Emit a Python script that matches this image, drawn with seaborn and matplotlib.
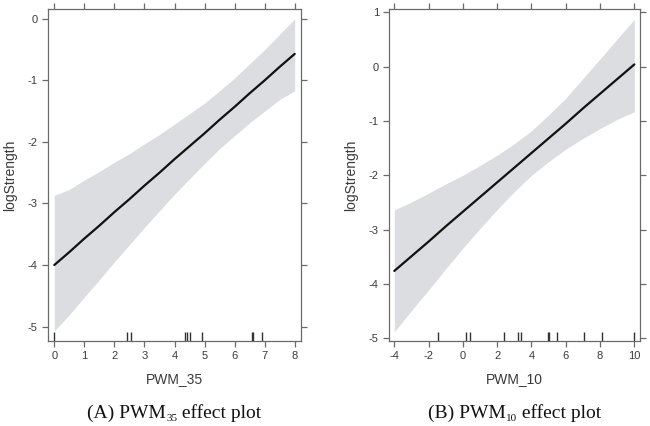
import numpy as np
import pandas as pd
import matplotlib
matplotlib.use("Agg")
import matplotlib.pyplot as plt
import seaborn as sns

# ---- data ----
pwm35_x = [0, 0.5, 1, 1.5, 2, 2.5, 3, 3.5, 4, 4.5, 5, 5.5, 6, 6.5, 7, 7.5, 8]
pwm35_fit = [-4.00, -3.79, -3.57, -3.36, -3.14, -2.93, -2.71, -2.50, -2.28,
             -2.07, -1.86, -1.64, -1.43, -1.21, -1.00, -0.78, -0.57]
pwm35_upper = [-2.87, -2.77, -2.62, -2.48, -2.33, -2.19, -2.03, -1.88, -1.71,
               -1.54, -1.37, -1.17, -0.96, -0.73, -0.50, -0.25, 0.00]
pwm35_lower = [-5.07, -4.81, -4.52, -4.24, -3.95, -3.67, -3.39, -3.12, -2.85,
               -2.60, -2.35, -2.11, -1.90, -1.69, -1.50, -1.31, -1.17]
pwm35_rug = [0.0, 2.41, 2.55, 4.36, 4.40, 4.50, 4.92, 6.58, 6.62, 6.91]

pwm10_x = [-4, -3, -2, -1, 0, 1, 2, 3, 4, 5, 6, 7, 8, 9, 10]
pwm10_fit = [-3.76, -3.49, -3.22, -2.94, -2.67, -2.40, -2.13, -1.86, -1.59,
             -1.32, -1.05, -0.77, -0.50, -0.23, 0.04]
pwm10_upper = [-2.64, -2.49, -2.33, -2.16, -2.00, -1.82, -1.63, -1.42, -1.18,
               -0.89, -0.58, -0.22, 0.14, 0.51, 0.87]
pwm10_lower = [-4.88, -4.49, -4.11, -3.72, -3.34, -2.98, -2.63, -2.30, -2.00,
               -1.75, -1.52, -1.32, -1.14, -0.97, -0.83]
pwm10_rug = [-1.43, 0.18, 0.43, 2.40, 3.22, 3.39, 4.97, 5.01, 5.49, 7.07, 8.10, 10.0]

panels = [
    dict(x=pwm35_x, fit=pwm35_fit, up=pwm35_upper, lo=pwm35_lower, rug=pwm35_rug,
         xlabel="PWM_35", caption=("(A) PWM", "35", " effect plot"),
         xticks=[0, 1, 2, 3, 4, 5, 6, 7, 8], yticks=[-5, -4, -3, -2, -1, 0],
         xlim=(-0.21, 8.21), ylim=(-5.23, 0.16),
         rect=[48/650, (426-340.7)/426, 253/650, 331.7/426]),
    dict(x=pwm10_x, fit=pwm10_fit, up=pwm10_upper, lo=pwm10_lower, rug=pwm10_rug,
         xlabel="PWM_10", caption=("(B) PWM", "10", " effect plot"),
         xticks=[-4, -2, 0, 2, 4, 6, 8, 10], yticks=[-5, -4, -3, -2, -1, 0, 1],
         xlim=(-4.31, 10.33), ylim=(-5.044, 1.06),
         rect=[389/650, (426-340.7)/426, 251/650, 331.7/426]),
]

sns.set_theme(style="ticks")
plt.rcParams["font.family"] = ["Liberation Sans", "DejaVu Sans"]

fig = plt.figure(figsize=(6.5, 4.26), dpi=100)
fig.patch.set_facecolor("white")
renderer = fig.canvas.get_renderer()

frame_col = "#6a6a6a"
text_col = "#3a3a3a"

def caption(cx, cy, parts):
    big, sub, tail = parts
    fs_big, fs_sub = 14, 8
    kw = dict(family=["Liberation Serif"], color="#111111", va="baseline", ha="left")
    t1 = fig.text(0, 0, big, fontsize=fs_big, **kw)
    t2 = fig.text(0, 0, sub, fontsize=fs_sub, **kw)
    t3 = fig.text(0, 0, tail, fontsize=fs_big, **kw)
    W = fig.bbox.width
    w1 = t1.get_window_extent(renderer).width / W
    w2 = t2.get_window_extent(renderer).width / W
    w3 = t3.get_window_extent(renderer).width / W
    x0 = cx - (w1 + w2 + w3) / 2
    t1.set_position((x0, cy))
    t2.set_position((x0 + w1, cy - 3 / 426))
    t3.set_position((x0 + w1 + w2, cy))

for p in panels:
    ax = fig.add_axes(p["rect"])
    ax.set_facecolor("white")
    df = pd.DataFrame({"x": p["x"], "fit": p["fit"], "up": p["up"], "lo": p["lo"]})
    ax.fill_between(df["x"], df["lo"], df["up"], color="#dcdde1", linewidth=0, zorder=1)
    sns.lineplot(data=df, x="x", y="fit", ax=ax, color="#111111", linewidth=1.6, zorder=3)
    sns.rugplot(x=p["rug"], ax=ax, height=0.026, color="#333333", linewidth=1.0, zorder=2)
    ax.set_xlim(*p["xlim"])
    ax.set_ylim(*p["ylim"])
    ax.set_xticks(p["xticks"])
    ax.set_yticks(p["yticks"])
    ax.set_xticklabels([str(v) for v in p["xticks"]])
    ax.set_yticklabels([str(v) for v in p["yticks"]])
    for s in ax.spines.values():
        s.set_visible(True)
        s.set_color(frame_col)
        s.set_linewidth(0.9)
    ax.tick_params(axis="both", which="both", direction="out", length=4.3, width=0.9,
                   color=frame_col, labelsize=8, labelcolor=text_col,
                   top=True, right=True, labeltop=False, labelright=False, pad=3)
    ax.set_xlabel(p["xlabel"], fontsize=10, color=text_col, labelpad=8)
    ax.set_ylabel("logStrength", fontsize=10, color=text_col, labelpad=8)
    ax.grid(False)
    cx = p["rect"][0] + p["rect"][2] / 2
    caption(cx, 1 - 418/426, p["caption"])

fig.savefig("out.png", dpi=100, facecolor="white")
